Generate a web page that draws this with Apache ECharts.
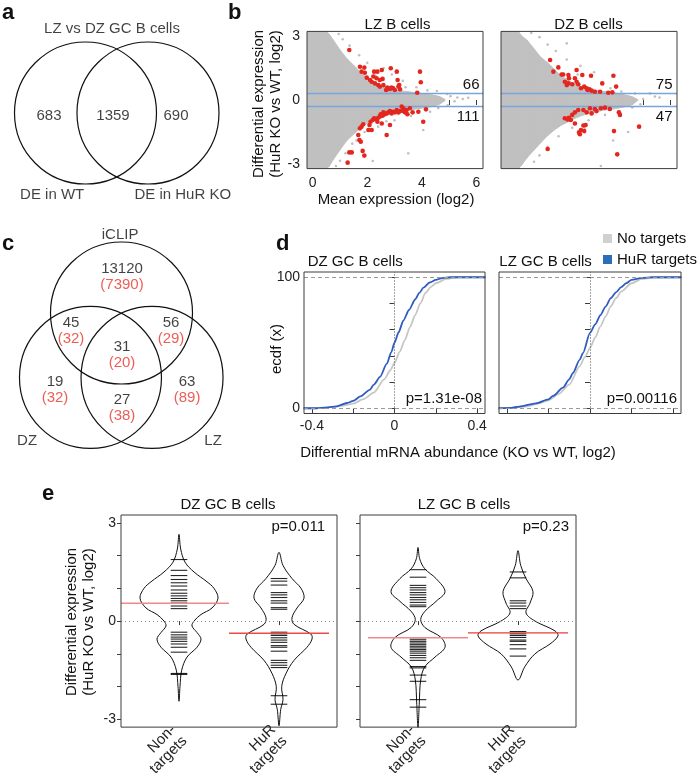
<!DOCTYPE html>
<html><head><meta charset="utf-8">
<script src="https://cdn.jsdelivr.net/npm/echarts@6/dist/echarts.min.js"></script>
<style>html,body{margin:0;padding:0;background:#fff}#c{width:698px;height:779px}</style>
</head><body><div id="c"></div>
<script>
// ================= DATA =================
const vennATitle = 'LZ vs DZ GC B cells';
const vennASetNames = ['DE in WT', 'DE in HuR KO'];
const vennACounts = ['683', '1359', '690'];
const vennCSetNames = ['iCLIP', 'DZ', 'LZ'];
const vennCCounts = ['13120', '45', '56', '31', '19', '27', '63'];
const vennCTargetCounts = ['(7390)', '(32)', '(29)', '(20)', '(32)', '(38)', '(89)'];

const maTitles = ['LZ B cells', 'DZ B cells'];
const maUpCounts = ['66', '75'];
const maDownCounts = ['111', '47'];
const maThresholds = [0.3, -0.3];
const maXTicks = [0, 1, 2, 3, 4, 5, 6];
const maXLabels = [0, 2, 4, 6];
const maYTicks = [-3, -2, -1, 0, 1, 2, 3];
const maYLabels = [-3, 0, 3];
// grey cloud envelope: [mean expression, upper edge, lower edge]
const lzCloud = [[-0.21,3.22,-3.22],[0.5,3.22,-3.22],[0.6,3.1,-3.12],[0.75,2.82,-2.8],[1.0,2.35,-2.34],[1.25,1.94,-1.9],[1.5,1.63,-1.6],[1.75,1.3,-1.32],[2.0,1.01,-1.08],[2.25,0.82,-0.92],[2.5,0.67,-0.78],[2.75,0.56,-0.68],[3.0,0.46,-0.6],[3.5,0.39,-0.48],[4.0,0.3,-0.38],[4.4,0.23,-0.3],[4.65,0.16,-0.2],[4.85,0.02,-0.02]];
const dzCloud = [[-0.21,3.22,-3.22],[0.43,3.22,-3.22],[0.55,3.0,-3.05],[0.75,2.8,-2.7],[1.0,2.4,-2.35],[1.25,2.0,-2.0],[1.5,1.75,-1.67],[1.75,1.43,-1.4],[2.0,1.13,-1.18],[2.25,0.92,-1.02],[2.5,0.74,-0.86],[2.75,0.62,-0.73],[3.0,0.52,-0.63],[3.5,0.41,-0.49],[4.0,0.32,-0.4],[4.4,0.22,-0.3],[4.6,0.15,-0.22],[4.8,0.02,-0.02]];
const lzGreyOutliers = [[5.3,0.12],[5.05,0.18],[5.5,0.05],[5.2,-0.06],[4.93,0.28],[4.95,-0.25],[4.55,0.42],[4.3,-0.55],[3.5,-2.5],[2.2,-2.86],[3.3,0.9],[2.9,1.2],[2.6,1.5],[2.0,1.75],[1.7,2.1],[1.35,2.55],[1.1,2.85],[0.95,3.1],[1.45,-2.05],[1.2,-2.5],[1.0,-2.85],[1.9,-1.5],[2.4,-1.25],[3.0,-0.95],[3.6,-0.75],[4.05,-1.41],[3.8,0.6],[4.2,0.45],[2.3,1.15],[1.6,-1.9],[2.7,-1.0],[3.4,0.6],[4.6,-0.38],[0.85,-3.1],[5.7,0.1]];
const dzGreyOutliers = [[5.25,0.31],[5.43,0.16],[5.6,0.12],[5.0,0.05],[4.9,-0.2],[4.7,0.3],[2.2,2.66],[3.45,-3.1],[3.9,-1.9],[4.45,-1.5],[3.2,1.3],[2.7,1.6],[2.2,1.9],[1.8,2.3],[1.5,2.6],[1.2,2.95],[1.5,-2.2],[1.2,-2.6],[1.9,-1.7],[2.4,-1.3],[3.0,-0.95],[3.6,-0.7],[4.1,-0.55],[3.8,0.55],[4.2,0.4],[2.6,1.2],[1.0,-2.9],[0.9,3.15],[4.6,-0.35],[2.85,-1.3]];
const lzSigUp = [[1.34,2.35],[1.73,1.56],[1.89,1.52],[1.79,1.33],[1.91,1.28],[1.98,1.05],[2.25,1.33],[2.37,1.33],[2.53,1.41],[2.86,1.49],[3.08,1.33],[2.56,0.99],[2.46,0.94],[2.10,0.94],[2.16,0.86],[2.28,0.78],[2.40,0.70],[2.46,0.63],[2.73,0.58],[2.83,0.52],[2.95,0.55],[3.11,0.94],[3.17,0.70],[3.20,0.50],[2.69,0.47],[3.01,0.47],[3.93,1.33],[3.96,0.83],[3.83,0.34],[2.22,1.10],[2.34,1.02],[2.59,0.70],[2.77,0.55],[3.14,0.63],[2.89,0.58]];
const lzSigDown = [[3.26,-0.31],[3.32,-0.39],[3.08,-0.47],[2.95,-0.55],[3.01,-0.58],[3.14,-0.59],[3.20,-0.52],[3.44,-0.47],[3.56,-0.39],[3.66,-0.58],[3.47,-0.67],[3.87,-0.55],[4.15,-0.44],[2.83,-0.52],[2.71,-0.63],[2.65,-0.67],[2.56,-0.74],[2.46,-0.78],[2.40,-0.83],[2.32,-0.89],[2.25,-0.86],[2.20,-0.94],[2.12,-1.02],[2.37,-1.02],[2.53,-1.10],[2.08,-1.17],[1.85,-1.14],[1.79,-1.25],[1.73,-1.33],[2.16,-1.41],[2.04,-1.41],[2.83,-1.17],[2.71,-1.64],[1.67,-1.64],[1.71,-1.88],[1.76,-1.96],[1.83,-2.39],[1.89,-2.61],[1.34,-2.46],[1.43,-2.46],[1.28,-2.94],[4.05,-1.02],[2.77,-0.58],[2.89,-0.63],[2.59,-0.58],[2.49,-0.67],[3.32,-0.52],[3.38,-0.58]];
const dzSigUp = [[1.59,1.88],[1.89,1.53],[1.71,1.33],[2.01,1.20],[2.07,1.20],[2.26,1.17],[2.56,1.41],[2.28,1.02],[2.13,0.86],[2.26,0.78],[2.20,0.70],[2.56,0.86],[2.62,0.74],[2.77,1.17],[3.09,1.14],[2.84,0.63],[2.93,0.55],[3.03,0.50],[3.11,0.44],[3.23,0.39],[3.50,0.78],[3.72,0.34],[3.91,1.14],[4.01,0.63],[3.87,0.36],[2.50,1.02],[2.40,0.74],[2.72,0.55],[2.96,0.47],[3.42,0.39]];
const dzSigDown = [[3.05,-0.39],[3.23,-0.42],[3.45,-0.39],[3.60,-0.36],[3.78,-0.42],[2.81,-0.47],[2.93,-0.58],[3.11,-0.63],[3.29,-0.52],[2.62,-0.47],[2.50,-0.58],[2.40,-0.70],[2.28,-0.83],[2.13,-0.86],[2.35,-0.94],[2.23,-0.91],[4.11,-0.58],[4.15,-0.70],[2.50,-1.10],[2.81,-1.20],[2.89,-1.17],[2.84,-1.46],[2.72,-1.41],[2.68,-1.61],[2.65,-1.52],[3.93,-1.46],[4.85,-1.25],[1.50,-2.30],[4.05,-2.55]];

const ecdfTitles = ['DZ GC B cells', 'LZ GC B cells'];
const ecdfSeriesNames = ['No targets', 'HuR targets'];
const ecdfPValues = ['p=1.31e-08', 'p=0.00116'];
const ecdfXTicks = [-0.4, -0.2, 0, 0.2, 0.4];
const ecdfXLabels = [-0.4, 0, 0.4];
const ecdfYTicks = [0, 20, 40, 60, 80, 100];
const ecdfYLabels = [0, 100];
const dzEcdfNo = [[-0.44,0],[-0.38,0],[-0.3,1],[-0.25,2],[-0.2,3.5],[-0.15,7],[-0.1,12],[-0.05,22],[-0.02,29],[0,34.7],[0.025,43],[0.05,52],[0.075,62],[0.1,71],[0.125,80],[0.15,88],[0.175,92.5],[0.2,95.4],[0.25,98.7],[0.3,100],[0.44,100]];
const dzEcdfHuR = [[-0.44,0],[-0.38,0],[-0.33,0.5],[-0.28,1.5],[-0.23,4],[-0.2,5.6],[-0.165,9],[-0.12,14],[-0.1,18],[-0.07,24],[-0.037,34],[-0.015,43],[0,50],[0.02,58],[0.043,67],[0.07,75],[0.1,83],[0.12,88],[0.14,92],[0.17,96],[0.2,98],[0.23,99.3],[0.27,100],[0.44,100]];
const lzEcdfNo = [[-0.44,0],[-0.38,0.3],[-0.3,1.5],[-0.25,3.5],[-0.2,6],[-0.15,11],[-0.1,18],[-0.05,32],[-0.025,39],[0,46],[0.025,54],[0.05,62.5],[0.075,70],[0.1,77.7],[0.125,84],[0.15,89],[0.2,95.4],[0.25,98.7],[0.3,99.7],[0.44,100]];
const lzEcdfHuR = [[-0.44,0],[-0.38,0.3],[-0.34,1.3],[-0.26,3.8],[-0.2,6.8],[-0.178,9.4],[-0.13,15.7],[-0.1,22],[-0.082,27],[-0.05,37],[-0.034,42],[0,57.5],[0.025,64],[0.05,71],[0.075,77.5],[0.1,84],[0.125,88.5],[0.15,92.4],[0.175,95.5],[0.2,98],[0.25,99.5],[0.3,100],[0.44,100]];

const beanTitles = ['DZ GC B cells', 'LZ GC B cells'];
const beanCategories = ['Non-\ntargets', 'HuR\ntargets'];
const beanPValues = ['p=0.011', 'p=0.23'];
const beanYTicks = [-3, -2, -1, 0, 1, 2, 3];
const beanYLabels = [-3, 0, 3];
const dzNonDensity = [[2.65,0],[2.2,0.017],[1.8,0.06],[1.5,0.15],[1.2,0.28],[1.0,0.35],[0.7,0.39],[0.4,0.33],[0.2,0.22],[0,0.15],[-0.15,0.13],[-0.35,0.18],[-0.55,0.22],[-0.8,0.18],[-1.1,0.08],[-1.5,0.027],[-2.0,0.01],[-2.45,0]];
const dzHuRDensity = [[2.1,0],[1.7,0.04],[1.3,0.13],[1.0,0.22],[0.7,0.25],[0.4,0.18],[0.1,0.13],[-0.1,0.15],[-0.4,0.32],[-0.55,0.33],[-0.8,0.28],[-1.2,0.15],[-1.6,0.07],[-2.0,0.027],[-2.4,0.04],[-2.7,0.017],[-3.2,0]];
const lzNonDensity = [[2.25,0],[1.9,0.017],[1.6,0.067],[1.3,0.18],[0.9,0.27],[0.6,0.18],[0.3,0.07],[0.05,0.027],[-0.2,0.07],[-0.5,0.23],[-0.8,0.27],[-1.1,0.17],[-1.4,0.067],[-1.8,0.027],[-2.5,0.013],[-3.25,0]];
const lzHuRDensity = [[2.15,0],[1.7,0.027],[1.3,0.08],[0.9,0.15],[0.55,0.12],[0.25,0.08],[0.0,0.17],[-0.3,0.37],[-0.45,0.4],[-0.7,0.32],[-1.0,0.17],[-1.4,0.067],[-1.8,0]];
const dzNonValues = [1.88,1.55,1.39,1.27,1.17,1.07,0.95,0.85,0.77,0.69,0.62,0.55,0.46,0.38,-0.34,-0.42,-0.49,-0.55,-0.62,-0.70,-0.80,-0.95,-1.60,-1.63];
const dzHuRValues = [1.30,1.22,1.10,0.87,0.80,0.72,0.62,0.55,0.41,0.36,-0.34,-0.39,-0.44,-0.51,-0.58,-0.65,-0.75,-0.80,-0.92,-1.20,-1.27,-1.35,-1.42,-2.28,-2.54];
const lzNonValues = [1.57,1.34,1.09,1.02,0.95,0.87,0.80,0.72,0.65,0.57,0.49,0.44,-0.51,-0.57,-0.62,-0.67,-0.72,-0.77,-0.82,-0.87,-0.92,-0.98,-1.05,-1.12,-1.20,-1.39,-1.43,-1.65,-1.84,-2.40,-2.63];
const lzHuRValues = [1.50,1.32,0.62,0.55,0.46,0.38,-0.32,-0.39,-0.44,-0.50,-0.58,-0.62,-0.72,-0.85,-1.07];
const dzMeans = [[0.42,1.5,0.545],[1.5,2.5,-0.37]];
const lzMeans = [[0.5,1.5,-0.51],[1.5,2.5,-0.36]];

// ================= LAYOUT / STYLE =================
const FONT = "'Liberation Sans', Arial, Helvetica, sans-serif";
const INK = '#111111';
const RED = '#e3261e';
const GREY = '#c0c0c0';
const BLUE = '#2f5cc0';
const BEAN_HALF = 0.083;

const gridBoxes = [
  {left:0.3, top:27.8, width:234.3, height:170.4, show:false},
  {left:307.0, top:31.4, width:176, height:137.2},
  {left:501.0, top:31.4, width:176, height:137.2},
  {left:7.9, top:227.8, width:227.2, height:234.3, show:false},
  {left:304, top:272, width:181, height:141.5},
  {left:499, top:272, width:182, height:141.5},
  {left:121, top:515, width:216, height:214},
  {left:360, top:515, width:216, height:214}
];
const grid = gridBoxes.map(g => Object.assign({show:true, borderColor:'#3c3c3c', borderWidth:1, backgroundColor:'transparent', z:10, containLabel:false}, g));

function hiddenAxis(gi, min, max) { return {type:'value', gridIndex:gi, min, max, show:false}; }
function valAxis(gi, min, max, ticks, labels, opt = {}) {
  return {
    type:'value', gridIndex:gi, min, max,
    axisLine:{show:false}, splitLine:{show:false},
    axisTick:{show:true, inside:false, length:opt.tickLen || 5, customValues:ticks, lineStyle:{color:'#3c3c3c', width:1}},
    axisLabel:{show: labels.length > 0, customValues: labels, fontSize: opt.fontSize || 14, color:'#222', fontFamily:FONT,
      margin: opt.margin == null ? 8 : opt.margin, rotate: opt.rotate || 0, lineHeight: opt.lineHeight,
      formatter: opt.formatter || (v => String(Math.round(v * 1000) / 1000))}
  };
}

const xAxis = [
  hiddenAxis(0, -1.2, 2.1),
  valAxis(1, -0.21, 6.24, maXTicks, maXLabels, {margin:8}),
  valAxis(2, -0.21, 6.24, maXTicks, [], {}),
  hiddenAxis(3, -1.6, 1.6),
  valAxis(4, -0.438, 0.438, ecdfXTicks, ecdfXLabels, {margin:6}),
  valAxis(5, -0.438, 0.438, ecdfXTicks, [], {}),
  valAxis(6, 0.42, 2.58, [1, 2], [1, 2], {margin:6, rotate:45, fontSize:15, lineHeight:16, tickLen:4, formatter: v => beanCategories[Math.round(v) - 1]}),
  valAxis(7, 0.42, 2.58, [1, 2], [1, 2], {margin:6, rotate:45, fontSize:15, lineHeight:16, tickLen:4, formatter: v => beanCategories[Math.round(v) - 1]})
];
const yAxis = [
  hiddenAxis(0, -1.2, 1.2),
  valAxis(1, -3.22, 3.22, maYTicks, maYLabels, {margin:7}),
  valAxis(2, -3.22, 3.22, maYTicks, [], {}),
  hiddenAxis(3, -2.1, 1.2),
  valAxis(4, -4, 104, ecdfYTicks, ecdfYLabels, {margin:4}),
  valAxis(5, -4, 104, ecdfYTicks, [], {}),
  valAxis(6, -3.24, 3.24, beanYTicks, beanYLabels, {margin:5, tickLen:4}),
  valAxis(7, -3.24, 3.24, beanYTicks, [], {tickLen:4})
];

// ================= SERIES =================
const series = [];
function circleSeries(gi, centers) {
  return {type:'custom', xAxisIndex:gi, yAxisIndex:gi, silent:true, data:centers,
    renderItem:(p, api) => {
      const c = api.coord([api.value(0), api.value(1)]);
      const r = api.size([1, 0])[0];
      return {type:'circle', shape:{cx:c[0], cy:c[1], r}, style:{fill:'none', stroke:'#111', lineWidth:1.2}};
    }};
}
function labelSeries(gi, items, labelOpt = {}) {
  return {type:'scatter', xAxisIndex:gi, yAxisIndex:gi, silent:true, symbolSize:1, z:20,
    itemStyle:{color:'rgba(0,0,0,0)'}, data:items,
    label:Object.assign({show:true, position:'inside', fontFamily:FONT, fontSize:15, color:INK, formatter:p => p.data.text}, labelOpt)};
}
function polygonSeries(gi, points, style, smooth, z) {
  return {type:'custom', xAxisIndex:gi, yAxisIndex:gi, silent:true, clip:false, z:z || 2, data:[points[0]],
    renderItem:(p, api) => {
      const pts = [];
      for (let i = 0; i < points.length; i++) {
        const c = api.coord([points[i][0], points[i][1]]);
        pts.push([c[0], c[1]]);
      }
      return {type:'polygon', shape:{points:pts, smooth:smooth || 0}, style};
    }};
}
// cloud envelope drawn slice by slice (quad between consecutive samples)
function cloudSeries(gi, rows) {
  return {type:'custom', xAxisIndex:gi, yAxisIndex:gi, silent:true, clip:true, z:2, data:rows,
    renderItem:(p, api) => {
      const i = p.dataIndex;
      if (i >= rows.length - 1) return null;
      const a = rows[i], b = rows[i + 1];
      const q = [[a[0], a[1]], [b[0], b[1]], [b[0], b[2]], [a[0], a[2]]].map(v => { const c = api.coord(v); return [c[0], c[1]]; });
      return {type:'polygon', shape:{points:q}, style:{fill:GREY, stroke:GREY, lineWidth:1}};
    }};
}
function scatterSeries(gi, data, color, size, z, extra) {
  return Object.assign({type:'scatter', xAxisIndex:gi, yAxisIndex:gi, silent:true, data, symbolSize:size, z,
    itemStyle:{color, opacity:1}}, extra || {});
}

// ---- panel a ----
const vennACenters = [[0, 0], [0.88, 0]];
const vennARegionPos = [[-0.514, -0.042], [0.387, -0.042], [1.275, -0.042]];
series.push(circleSeries(0, vennACenters));
series.push(labelSeries(0, vennACounts.map((t, i) => ({value:vennARegionPos[i], text:t}))));
series.push(labelSeries(0, [
  {value:[0.373, 1.183], text:vennATitle},
  {value:[-0.47, -1.155], text:vennASetNames[0]},
  {value:[1.37, -1.155], text:vennASetNames[1]}
]));

// ---- panel c ----
const vennCCenters = [[0, 0], [-0.437, -0.908], [0.43, -0.908]];
const vennCRegionPos = [[0.007, 0.507], [-0.711, -0.254], [0.697, -0.254], [0.007, -0.592], [-0.937, -1.078], [0.007, -1.331], [0.923, -1.078]];
const vennCSetPos = [[-0.02, 1.10], [-1.33, -1.80], [1.29, -1.80]];
series.push(circleSeries(3, vennCCenters));
series.push(labelSeries(3, vennCCounts.map((t, i) => ({value:vennCRegionPos[i], text:'{n|' + t + '}\n{r|' + vennCTargetCounts[i] + '}'})),
  {rich:{n:{fontSize:15, color:INK, fontFamily:FONT, lineHeight:16, align:'center'}, r:{fontSize:15, color:'#e8342b', fontFamily:FONT, lineHeight:16, align:'center'}}}));
series.push(labelSeries(3, vennCSetNames.map((t, i) => ({value:vennCSetPos[i], text:t}))));

// ---- panel b ----
[[1, lzCloud, lzGreyOutliers, lzSigUp, lzSigDown], [2, dzCloud, dzGreyOutliers, dzSigUp, dzSigDown]].forEach(([gi, cloud, out, su, sd]) => {
  series.push(cloudSeries(gi, cloud));
  series.push(scatterSeries(gi, out, GREY, 2.6, 3));
  series.push(scatterSeries(gi, su.concat(sd), RED, 4.6, 5, {
    markLine:{silent:true, symbol:['none', 'none'], label:{show:false}, animation:false,
      lineStyle:{color:'#78a5db', width:1.3, type:'solid'},
      data:maThresholds.map(v => ({yAxis:v}))}
  }));
});

// ---- panel d ----
[[4, dzEcdfNo, dzEcdfHuR], [5, lzEcdfNo, lzEcdfHuR]].forEach(([gi, no, hur]) => {
  series.push({type:'line', name:ecdfSeriesNames[0], xAxisIndex:gi, yAxisIndex:gi, data:no, showSymbol:false, symbol:'none',
    smooth:0.25, smoothMonotone:'x', lineStyle:{color:'#c6c6c6', width:1.8}, itemStyle:{color:'#d0d0d0'}, z:3, silent:true,
    markLine:{silent:true, symbol:['none', 'none'], label:{show:false}, animation:false,
      data:[
        {yAxis:0, lineStyle:{color:'#9a9a9a', type:[4, 3], width:1}},
        {yAxis:100, lineStyle:{color:'#9a9a9a', type:[4, 3], width:1}},
        {xAxis:0, lineStyle:{color:'#444', type:[1, 2], width:1}}
      ]}});
  series.push({type:'line', name:ecdfSeriesNames[1], xAxisIndex:gi, yAxisIndex:gi, data:hur, showSymbol:false, symbol:'none',
    smooth:0.25, smoothMonotone:'x', lineStyle:{color:BLUE, width:1.8}, itemStyle:{color:'#2a6ebb'}, z:4, silent:true});
});

// ---- panel e ----
function violinPoints(cx, prof) {
  const right = prof.map(([y, w]) => [cx + w, y]);
  const left = prof.slice(1, -1).reverse().map(([y, w]) => [cx - w, y]);
  return right.concat(left);
}
function beanLineSeries(gi, cx, values) {
  return {type:'custom', xAxisIndex:gi, yAxisIndex:gi, silent:true, z:4, data:values.map(v => [cx, v]),
    renderItem:(p, api) => {
      const a = api.coord([api.value(0) - BEAN_HALF, api.value(1)]);
      const b = api.coord([api.value(0) + BEAN_HALF, api.value(1)]);
      return {type:'line', shape:{x1:a[0], y1:a[1], x2:b[0], y2:b[1]}, style:{stroke:'rgba(0,0,0,0.85)', lineWidth:1.1}};
    }};
}
function meanSeries(gi, means, colors) {
  return {type:'custom', xAxisIndex:gi, yAxisIndex:gi, silent:true, z:6, data:means,
    renderItem:(p, api) => {
      const a = api.coord([api.value(0), api.value(2)]);
      const b = api.coord([api.value(1), api.value(2)]);
      return {type:'line', shape:{x1:a[0], y1:a[1], x2:b[0], y2:b[1]}, style:{stroke:colors[p.dataIndex], lineWidth:1.4}};
    },
    markLine:{silent:true, symbol:['none', 'none'], label:{show:false}, animation:false,
      lineStyle:{color:'#8a8a8a', type:[1, 3], width:1}, data:[{yAxis:0}]}};
}
[[6, dzNonDensity, dzHuRDensity, dzNonValues, dzHuRValues, dzMeans, ['#f08a8a', '#ec4a44']],
 [7, lzNonDensity, lzHuRDensity, lzNonValues, lzHuRValues, lzMeans, ['#f08a8a', '#ec3b36']]].forEach(([gi, d1, d2, v1, v2, m, mc]) => {
  series.push(polygonSeries(gi, violinPoints(1, d1), {fill:'none', stroke:'#111', lineWidth:1}, 0.35, 3));
  series.push(polygonSeries(gi, violinPoints(2, d2), {fill:'none', stroke:'#111', lineWidth:1}, 0.35, 3));
  series.push(beanLineSeries(gi, 1, v1));
  series.push(beanLineSeries(gi, 2, v2));
  series.push(meanSeries(gi, m, mc));
});

// ================= TEXT =================
function txt(x, y, text, o = {}) {
  const al = o.align || 'center';
  return {type:'text', x, y, rotation:o.rot || 0, silent:true, z:100,
    style:{text, x:0, y:0, font:(o.bold ? 'bold ' : '') + (o.size || 15) + 'px ' + FONT, fill:o.color || INK,
      align:al, verticalAlign:'middle', textAlign:al, textVerticalAlign:'middle'}};
}
const R90 = Math.PI / 2;
const graphic = [
  txt(2, 13, 'a', {bold:true, size:22, align:'left'}),
  txt(228, 13, 'b', {bold:true, size:22, align:'left'}),
  txt(2, 244, 'c', {bold:true, size:22, align:'left'}),
  txt(276, 244, 'd', {bold:true, size:22, align:'left'}),
  txt(42, 494, 'e', {bold:true, size:22, align:'left'}),
  txt(397.5, 24.5, maTitles[0]),
  txt(588.5, 24.5, maTitles[1]),
  txt(258.5, 104, 'Differential expression', {rot:R90}),
  txt(275.5, 104, '(HuR KO vs WT, log2)', {rot:R90}),
  txt(396, 200, 'Mean expression (log2)'),
  txt(479.5, 84.7, maUpCounts[0], {align:'right'}),
  txt(479.5, 116.7, maDownCounts[0], {align:'right'}),
  txt(672.5, 84.7, maUpCounts[1], {align:'right'}),
  txt(672.5, 116.7, maDownCounts[1], {align:'right'}),
  txt(307.7, 261.7, ecdfTitles[0], {align:'left'}),
  txt(499.3, 262, ecdfTitles[1], {align:'left'}),
  txt(482, 399.3, ecdfPValues[0], {align:'right'}),
  txt(677, 399.3, ecdfPValues[1], {align:'right'}),
  txt(277, 349, 'ecdf (x)', {rot:R90}),
  txt(458, 453, 'Differential mRNA abundance (KO vs WT, log2)'),
  txt(228, 505, beanTitles[0]),
  txt(464, 505, beanTitles[1]),
  txt(72, 622, 'Differential expression', {rot:R90}),
  txt(89, 622, '(HuR KO vs WT, log2)', {rot:R90}),
  txt(325, 527.3, beanPValues[0], {align:'right'}),
  txt(569, 527.3, beanPValues[1], {align:'right'})
];

const chart = echarts.init(document.getElementById('c'), null, {renderer:'canvas', width:698, height:779});
chart.setOption({
  animation:false,
  backgroundColor:'#ffffff',
  textStyle:{fontFamily:FONT},
  grid, xAxis, yAxis, series, graphic,
  legend:{show:true, orient:'vertical', left:603, top:231, itemWidth:9, itemHeight:9, itemGap:6, icon:'rect',
    selectedMode:false, data:ecdfSeriesNames, textStyle:{fontSize:15, color:INK, fontFamily:FONT}, padding:0}
});
</script></body></html>
